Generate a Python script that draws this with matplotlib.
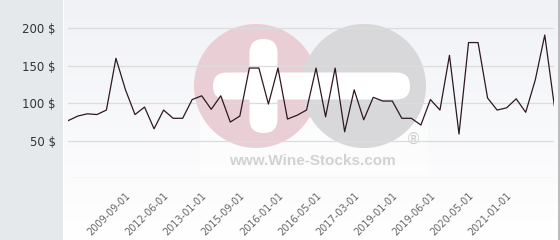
import matplotlib
matplotlib.use("Agg")
import matplotlib.pyplot as plt
import numpy as np
from matplotlib.patches import Circle, FancyBboxPatch, Rectangle

# ---- data ----
prices = [77, 83, 86, 85, 91, 160, 118, 85, 95, 66,
          91, 80, 80, 105, 110, 92, 110, 75, 83, 147,
          147, 99, 147, 79, 84, 91, 147, 82, 147, 62,
          118, 78, 108, 103, 103, 80, 80, 71, 105, 91,
          164, 59, 181, 181, 107, 91, 94, 106, 88, 131,
          191, 97]
tick_labels = ["2009-09-01", "2012-06-01", "2013-01-01", "2015-09-01",
               "2016-01-01", "2016-05-01", "2017-03-01", "2019-01-01",
               "2019-06-01", "2020-05-01", "2021-01-01"]
y_ticks = [50, 100, 150, 200]

W, H = 560, 240
fig = plt.figure(figsize=(W / 100, H / 100), dpi=100)
fig.patch.set_facecolor("white")

# background axes in pixel coordinates (y down)
bg = fig.add_axes([0, 0, 1, 1], zorder=0)
bg.set_xlim(0, W)
bg.set_ylim(H, 0)
bg.axis("off")
grad = np.linspace(0, 1, 256).reshape(-1, 1)
top = np.array([0xf1, 0xf2, 0xf6]) / 255
bot = np.array([1.0, 1.0, 1.0])
img = top[None, None, :] * (1 - grad[..., None]) + bot[None, None, :] * grad[..., None]
bg.imshow(img, extent=(64, 558, H, 0), aspect="auto", zorder=0)
bg.add_patch(Rectangle((0, 0), 62.5, H, color="#e6e9ec", zorder=1, lw=0))
bg.add_patch(Rectangle((558, 0), 2, H, color="#bcbcbc", zorder=1, lw=0))

# watermark logo
pink = "#e9cfd5"
grey = "#d8d8da"
bg.add_patch(FancyBboxPatch((200, 97), 228, 78, boxstyle="square,pad=0",
                            facecolor="white", alpha=0.5, lw=0, zorder=2))
bg.add_patch(Circle((256, 86), 62, color=pink, lw=0, zorder=2))
bg.add_patch(Circle((364, 86), 62, color=grey, lw=0, zorder=3))
bg.add_patch(FancyBboxPatch((249.5, 39), 28, 94, boxstyle="round,pad=0,rounding_size=14",
                            color="white", lw=0, zorder=4))
bg.add_patch(FancyBboxPatch((213, 72.5), 197, 27, boxstyle="round,pad=0,rounding_size=13.5",
                            color="white", lw=0, zorder=4))
bg.text(312, 161, "www.Wine-Stocks.com", ha="center", va="center",
        fontsize=11, fontweight="bold", color="#d2d2d2",
        family="Liberation Sans", zorder=5)
bg.text(413, 139, "®", ha="center", va="center", fontsize=11,
        color="#cfcfcf", family="DejaVu Sans", zorder=5)

# main axes
x0, x1 = 68.3, 554.3
y0, ytop = 178.3, 10
ymax = (y0 - ytop) / 0.75
ax = fig.add_axes([x0 / W, (H - y0) / H, (x1 - x0) / W, (y0 - ytop) / H], zorder=2)
ax.patch.set_alpha(0)
x = np.arange(len(prices))
ax.set_xlim(0, len(prices) - 1)
ax.set_ylim(0, ymax)
for s in ax.spines.values():
    s.set_visible(False)
for v in [0] + y_ticks:
    ax.axhline(v, color="#dcdcdc", lw=0.9, zorder=1)
ax.plot(x, prices, color="#2e1822", lw=0.9, zorder=3)

ax.set_yticks(y_ticks)
ax.set_yticklabels([f"{v} $" for v in y_ticks], fontsize=8.5, color="#333333")
ax.tick_params(axis="y", length=0, pad=9)

label_start, label_step = 6, 4
ax.set_xticks(x[label_start::label_step][:len(tick_labels)])
ax.set_xticklabels(tick_labels, rotation=45, ha="right", rotation_mode="anchor",
                   fontsize=7, color="#666666")
ax.tick_params(axis="x", length=0, pad=9)

fig.savefig("out.png", dpi=100)
